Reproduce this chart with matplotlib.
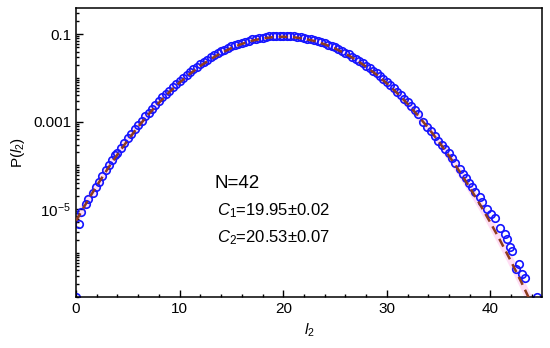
import matplotlib
matplotlib.use("Agg")
import matplotlib.pyplot as plt
import numpy as np
from matplotlib.ticker import FixedLocator, NullFormatter

plt.rcParams['font.family'] = ['Liberation Sans', 'DejaVu Sans']
plt.rcParams['mathtext.fontset'] = 'custom'
plt.rcParams['mathtext.rm'] = 'Liberation Sans'
plt.rcParams['mathtext.it'] = 'Liberation Sans:italic'

l2_obs = [0.0, 0.29, 0.48, 0.94, 1.19, 1.62, 1.94, 2.23, 2.55, 2.90, 3.22, 3.51, 3.78,
          4.00, 4.33, 4.67, 5.00, 5.33, 5.67, 6.00, 6.33, 6.67, 7.00, 7.33, 7.67,
          8.00, 8.33, 8.67, 9.00, 9.33, 9.67, 10.00, 10.33, 10.67, 11.00, 11.33, 11.67,
          12.00, 12.33, 12.67, 13.00, 13.33, 13.67, 14.00, 14.33, 14.67, 15.00, 15.33, 15.67,
          16.00, 16.33, 16.67, 17.00, 17.33, 17.67, 18.00, 18.33, 18.67, 19.00, 19.33, 19.67,
          20.00, 20.33, 20.67, 21.00, 21.33, 21.67, 22.00, 22.33, 22.67, 23.00, 23.33, 23.67,
          24.00, 24.33, 24.67, 25.00, 25.33, 25.67, 26.00, 26.33, 26.67, 27.00, 27.33, 27.67,
          28.00, 28.33, 28.67, 29.00, 29.33, 29.67, 30.00, 30.33, 30.67, 31.00, 31.33, 31.67,
          32.00, 32.33, 32.67, 33.00,
          33.47, 33.85, 34.27, 34.66, 34.98, 35.31, 35.65, 35.98, 36.27, 36.62, 37.01, 37.34,
          37.59, 37.92, 38.21, 38.53, 38.94, 39.21, 39.69, 40.02, 40.40, 40.95, 41.36, 41.56,
          41.85, 42.08, 42.43, 42.76, 43.05, 43.37, 44.53]
logP_obs = [-7.0, -5.34, -5.06, -4.87, -4.77, -4.62, -4.50, -4.37, -4.24, -4.11, -3.99, -3.88, -3.77,
            -3.71, -3.60, -3.49, -3.38, -3.28, -3.17, -3.08, -2.98, -2.88, -2.79, -2.70, -2.61,
            -2.53, -2.44, -2.36, -2.29, -2.21, -2.13, -2.06, -2.00, -1.93, -1.86, -1.80, -1.74,
            -1.69, -1.63, -1.58, -1.53, -1.48, -1.43, -1.39, -1.35, -1.31, -1.28, -1.25, -1.22,
            -1.19, -1.17, -1.15, -1.12, -1.11, -1.09, -1.08, -1.06, -1.05, -1.05, -1.04, -1.04,
            -1.04, -1.04, -1.04, -1.05, -1.06, -1.07, -1.08, -1.10, -1.11, -1.13, -1.16, -1.18,
            -1.21, -1.24, -1.27, -1.30, -1.34, -1.38, -1.42, -1.46, -1.51, -1.56, -1.61, -1.66,
            -1.72, -1.77, -1.83, -1.89, -1.96, -2.03, -2.10, -2.17, -2.24, -2.32, -2.40, -2.48,
            -2.56, -2.65, -2.74, -2.83,
            -3.00, -3.12, -3.22, -3.33, -3.43, -3.53, -3.62, -3.72, -3.82, -3.95, -4.07, -4.19,
            -4.28, -4.39, -4.49, -4.61, -4.71, -4.83, -5.00, -5.10, -5.21, -5.42, -5.57, -5.69,
            -5.86, -5.95, -6.37, -6.25, -6.48, -6.58, -7.0]

# fitted curve (dashed)
l2_fit = list(range(0, 45))
logP_fit = [-5.267, -4.855, -4.465, -4.096, -3.748, -3.421, -3.115, -2.830, -2.567, -2.325,
            -2.103, -1.903, -1.725, -1.567, -1.431, -1.315, -1.221, -1.148, -1.096, -1.066,
            -1.056, -1.068, -1.100, -1.154, -1.230, -1.326, -1.443, -1.582, -1.742, -1.923,
            -2.125, -2.348, -2.592, -2.858, -3.144, -3.452, -3.781, -4.132, -4.503, -4.895,
            -5.309, -5.744, -6.200, -6.677, -7.176]

P_obs = np.power(10.0, logP_obs)
P_fit = np.power(10.0, logP_fit)

fig = plt.figure(figsize=(5.5, 3.48), dpi=100)
ax = fig.add_axes([0.1382, 0.1474, 0.986 - 0.1382, 0.977 - 0.1474])

ax.plot(l2_fit, P_fit, color='#ffc8ee', lw=5, alpha=0.6, zorder=1)
ax.plot(l2_obs, P_obs, 'o', mfc='none', mec='#1414ff', mew=1.2, ms=5.4, zorder=2)
ax.plot(l2_fit, P_fit, color='#8e3b1e', lw=1.8, dashes=(3.5, 2.2), zorder=3)

ax.set_yscale('log')
ax.set_xlim(0, 45)
ax.set_ylim(1e-7, 10 ** -0.4)

ax.set_xticks([0, 10, 20, 30, 40])
ax.set_xticks(np.arange(0, 46, 2), minor=True)
ax.yaxis.set_major_locator(FixedLocator([1e-5, 1e-3, 1e-1]))
ax.set_yticklabels([r'$10^{-5}$', '0.001', '0.1'])
minors = [m * 10.0 ** e for e in range(-7, 0) for m in range(1, 10)]
minors = [v for v in minors if v not in (1e-5, 1e-3, 1e-1)]
ax.yaxis.set_minor_locator(FixedLocator(minors))
ax.yaxis.set_minor_formatter(NullFormatter())

ax.tick_params(which='both', direction='in', labelsize=11, width=1.0)
ax.tick_params(which='major', length=5)
ax.tick_params(which='minor', length=2.5)
for s in ax.spines.values():
    s.set_linewidth(1.1)

ax.set_xlabel(r'$\mathit{l}_2$', fontsize=11, labelpad=4)
ax.set_ylabel(r'P($\mathit{l}_2$)', fontsize=11, labelpad=4)

ax.text(0.296, 0.378, 'N=42', transform=ax.transAxes, fontsize=13.5)
ax.text(0.303, 0.283, r'$\mathit{C}_1$=19.95±0.02', transform=ax.transAxes, fontsize=12)
ax.text(0.303, 0.187, r'$\mathit{C}_2$=20.53±0.07', transform=ax.transAxes, fontsize=12)

fig.savefig('out.png', dpi=100)
